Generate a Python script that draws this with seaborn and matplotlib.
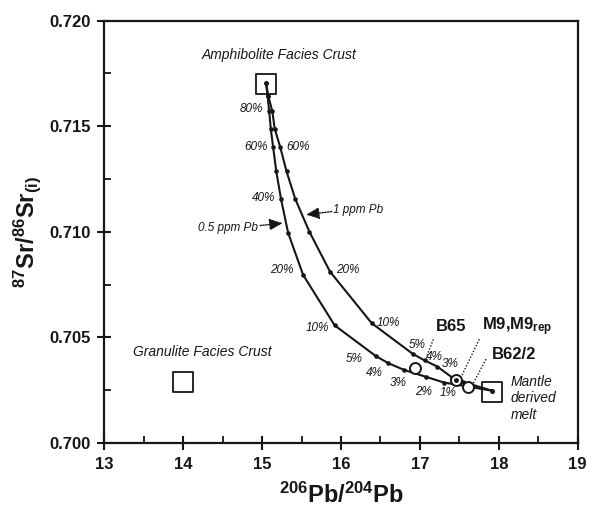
import numpy as np
import pandas as pd
import matplotlib
matplotlib.use('Agg')
import matplotlib.pyplot as plt
import seaborn as sns
from matplotlib.ticker import MultipleLocator, FormatStrFormatter

# ---------------- data ----------------
mix_pct = [100, 90, 80, 70, 60, 50, 40, 30, 20, 10, 5, 4, 3, 2, 1, 0]
pb_05ppm = [15.05, 15.07, 15.09, 15.11, 15.14, 15.18, 15.24, 15.33, 15.52, 15.92,
            16.44, 16.60, 16.80, 17.08, 17.31, 17.91]
sr_05ppm = [0.71705, 0.71641, 0.71570, 0.71488, 0.71401, 0.71286, 0.71155, 0.70995,
            0.70796, 0.70557, 0.70412, 0.70378, 0.70346, 0.70313, 0.70286, 0.70248]
pb_1ppm = [15.05, 15.08, 15.13, 15.16, 15.23, 15.31, 15.42, 15.60, 15.86, 16.39,
           16.91, 17.06, 17.22, 17.41, 17.55, 17.91]
sr_1ppm = [0.71705, 0.71641, 0.71570, 0.71488, 0.71401, 0.71286, 0.71156, 0.71000,
           0.70812, 0.70567, 0.70422, 0.70391, 0.70362, 0.70310, 0.70289, 0.70248]

sample_names = ['B65', 'M9,M9$_{rep}$', 'B62/2']
sample_pb = [16.94, 17.455, 17.613]
sample_sr = [0.70354, 0.70299, 0.70267]

end_names = ['Amphibolite Facies Crust', 'Granulite Facies Crust', 'Mantle\nderived\nmelt']
end_pb = [15.05, 14.0, 17.91]
end_sr = [0.7170, 0.7029, 0.7024]

pct_text = ['80%', '60%', '60%', '40%', '20%', '20%', '10%', '10%',
            '5%', '4%', '3%', '2%', '1%', '5%', '4%', '3%']
pct_x = [14.86, 14.93, 15.45, 15.02, 15.25, 16.09, 15.70, 16.60,
         16.17, 16.42, 16.72, 17.05, 17.36, 16.96, 17.18, 17.39]
pct_y = [0.71583, 0.71404, 0.71404, 0.71160, 0.70817, 0.70817, 0.70544, 0.70570,
         0.70397, 0.70333, 0.70286, 0.70243, 0.70238, 0.70464, 0.70409, 0.70374]

x_ticks = [13, 14, 15, 16, 17, 18, 19]
y_ticks = [0.700, 0.705, 0.710, 0.715, 0.720]

# ---------------- style ----------------
sns.set_style('ticks')
plt.rcParams['font.family'] = ['Liberation Sans', 'DejaVu Sans']
plt.rcParams['mathtext.fontset'] = 'custom'
plt.rcParams['mathtext.bf'] = 'Liberation Sans:bold'
plt.rcParams['mathtext.rm'] = 'Liberation Sans:bold'
plt.rcParams['mathtext.default'] = 'bf'

INK = '#161616'

fig = plt.figure(figsize=(5.95, 5.16), dpi=100)
ax = fig.add_axes([0.1753, 0.1415, 0.7956, 0.8184])

curves = pd.concat([
    pd.DataFrame({'pb': pb_05ppm, 'sr': sr_05ppm, 'pct': mix_pct, 'curve': '0.5 ppm Pb'}),
    pd.DataFrame({'pb': pb_1ppm, 'sr': sr_1ppm, 'pct': mix_pct, 'curve': '1 ppm Pb'}),
])
for name, grp in curves.groupby('curve'):
    sns.lineplot(data=grp, x='pb', y='sr', sort=False, estimator=None, ax=ax,
                 color=INK, lw=1.5, marker='o', markersize=3.3,
                 markeredgewidth=0, markerfacecolor=INK, legend=False)

# end-member squares
ends = pd.DataFrame({'pb': end_pb, 'sr': end_sr})
sns.scatterplot(data=ends, x='pb', y='sr', marker='s', s=215, facecolor='none',
                edgecolor=INK, linewidth=1.3, ax=ax, zorder=5)

# samples
samples = pd.DataFrame({'pb': sample_pb, 'sr': sample_sr})
sns.scatterplot(data=samples, x='pb', y='sr', marker='o', s=62, color='white',
                edgecolor=INK, linewidth=1.4, ax=ax, zorder=6)
ax.plot(sample_pb[1], sample_sr[1], 'o', color=INK, ms=2.5, zorder=7)

# end-member labels
ax.text(15.21, 0.71836, end_names[0], style='italic', fontsize=10,
        ha='center', va='center', color=INK)
ax.text(14.24, 0.70433, end_names[1], style='italic', fontsize=10,
        ha='center', va='center', color=INK)
ax.text(18.15, 0.70211, end_names[2], style='italic', fontsize=10,
        ha='left', va='center', linespacing=1.25, color=INK)

# sample labels
ax.text(17.39, 0.70551, sample_names[0], fontweight='bold', fontsize=12,
        ha='center', va='center', color=INK)
ax.text(18.24, 0.70551, sample_names[1], fontweight='bold', fontsize=12,
        ha='center', va='center', color=INK)
ax.text(17.91, 0.70417, sample_names[2], fontweight='bold', fontsize=12,
        ha='left', va='center', color=INK)

# leader lines
leaders_x = [(17.17, 17.086), (17.753, 17.53), (17.838, 17.677)]
leaders_y = [(0.70491, 0.70409), (0.70491, 0.70318), (0.70397, 0.70283)]
for lx, ly in zip(leaders_x, leaders_y):
    ax.plot(lx, ly, color=INK, lw=1.0, ls=(0, (1, 1.3)))

# percentage labels
for t, x, y in zip(pct_text, pct_x, pct_y):
    ax.text(x, y, t, style='italic', fontsize=8.5, ha='center', va='center',
            color=INK)

# curve labels with dotted arrows
ax.text(15.90, 0.71105, '1 ppm Pb', style='italic', fontsize=8.5,
        ha='left', va='center', color=INK)
ax.annotate('', xy=(15.556, 0.71081), xytext=(15.882, 0.71096),
            arrowprops=dict(arrowstyle='-|>,head_length=0.8,head_width=0.35',
                            color=INK, lw=1.0, ls=(0, (1, 1)),
                            shrinkA=0, shrinkB=0))
ax.text(14.95, 0.71020, '0.5 ppm Pb', style='italic', fontsize=8.5,
        ha='right', va='center', color=INK)
ax.annotate('', xy=(15.261, 0.71041), xytext=(14.975, 0.71030),
            arrowprops=dict(arrowstyle='-|>,head_length=0.8,head_width=0.35',
                            color=INK, lw=1.0, ls=(0, (1, 1)),
                            shrinkA=0, shrinkB=0))

# axes
ax.set_xlim(13, 19)
ax.set_ylim(0.700, 0.720)
ax.set_xticks(x_ticks)
ax.set_yticks(y_ticks)
ax.xaxis.set_minor_locator(MultipleLocator(0.5))
ax.yaxis.set_minor_locator(MultipleLocator(0.0025))
ax.yaxis.set_major_formatter(FormatStrFormatter('%.3f'))
ax.tick_params(which='major', direction='inout', length=10, width=1.5,
               labelsize=12, colors=INK, pad=5)
ax.tick_params(which='minor', direction='in', length=5, width=1.3,
               colors=INK)
for lab in ax.get_xticklabels() + ax.get_yticklabels():
    lab.set_fontweight('bold')
for sp in ax.spines.values():
    sp.set_visible(True)
    sp.set_linewidth(1.6)
    sp.set_color(INK)

ax.set_xlabel(r'$^{206}$Pb/$^{204}$Pb', fontsize=17, fontweight='bold',
              labelpad=8, color=INK)
ax.set_ylabel(r'$^{87}$Sr/$^{86}$Sr$_{(i)}$', fontsize=17, fontweight='bold',
              labelpad=4, color=INK)

fig.savefig('out.png', dpi=100)
